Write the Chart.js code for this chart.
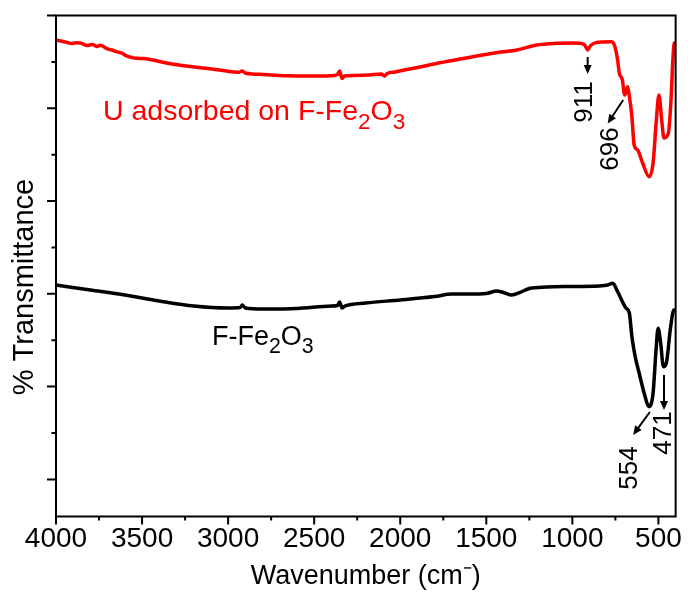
<!DOCTYPE html>
<html>
<head>
<meta charset="utf-8">
<title>FTIR spectra</title>
<script src="https://cdn.jsdelivr.net/npm/chart.js@4.4.1/dist/chart.umd.min.js"></script>
<style>
  html, body { margin: 0; padding: 0; background: #fff; }
  canvas { display: block; }
</style>
</head>
<body>
<canvas id="ftirChart" width="688" height="596"></canvas>
<script>
const FONT = '"Liberation Sans", Arial, Helvetica, sans-serif';

// U adsorbed on F-Fe2O3 (red trace)
const uWavenumber = [4000, 3960, 3935, 3910, 3885, 3860, 3840, 3820, 3790, 3760, 3745, 3730, 3700, 3675,
  3650, 3620, 3590, 3560, 3534, 3490, 3458, 3400, 3325, 3230, 3131, 3030, 2938, 2920, 2900, 2820, 2748,
  2650, 2554, 2460, 2402, 2365, 2352, 2345, 2338, 2325, 2265, 2180, 2110, 2092, 2075, 2030, 1977, 1900,
  1785, 1650, 1555, 1450, 1323, 1208, 1092, 1000, 958, 929, 911, 900, 890, 862, 820, 775, 756, 737, 727,
  710, 696, 679, 670, 654, 641, 621, 592, 554, 531, 512, 497, 481, 468, 442, 429, 410, 402];
const uTransmittance = [94.72, 94.40, 94.18, 93.96, 94.10, 94.07, 93.80, 93.53, 93.75, 93.32, 93.60,
  93.43, 92.78, 92.56, 92.20, 91.92, 91.27, 90.95, 90.77, 90.73, 90.56, 90.08, 89.55, 89.05, 88.62, 88.14,
  87.76, 88.04, 87.60, 87.32, 87.17, 87.00, 86.96, 86.96, 87.02, 87.28, 88.04, 87.17, 86.42, 86.96, 87.07,
  87.17, 87.39, 86.96, 87.50, 87.82, 88.25, 88.79, 89.70, 90.62, 91.27, 91.92, 92.56, 93.64, 94.01, 94.07,
  94.01, 93.64, 92.56, 93.21, 93.64, 94.14, 94.29, 94.35, 93.64, 90.41, 87.54, 86.20, 82.86, 84.65, 82.86,
  78.18, 72.08, 71.01, 68.20, 65.25, 68.20, 77.47, 82.86, 77.47, 73.59, 74.67, 80.34, 93.64, 94.29];

// F-Fe2O3 (black trace)
const feWavenumber = [4000, 3800, 3600, 3400, 3200, 3000, 2930, 2918, 2900, 2800, 2600, 2400, 2365, 2352,
  2338, 2320, 2200, 2000, 1800, 1700, 1600, 1500, 1440, 1400, 1352, 1300, 1250, 1150, 1000, 850, 794, 765,
  737, 689, 669, 654, 635, 612, 583, 554, 531, 515, 502, 487, 471, 454, 429, 410, 400];
const feTransmittance = [41.90, 40.83, 39.75, 38.46, 37.38, 36.95, 37.05, 37.59, 36.95, 36.73, 36.84, 37.38,
  37.49, 38.24, 36.95, 37.38, 38.03, 38.67, 39.42, 39.96, 39.96, 40.07, 40.61, 40.29, 39.75, 40.39, 41.15,
  41.47, 41.58, 41.69, 41.90, 42.27, 40.46, 36.95, 35.87, 30.76, 26.45, 22.93, 18.62, 15.67, 18.62, 27.25,
  32.57, 29.40, 24.29, 25.09, 32.91, 36.51, 36.51];

const xMajorTicks = [4000, 3500, 3000, 2500, 2000, 1500, 1000, 500];
const xMinorTicks = [3750, 3250, 2750, 2250, 1750, 1250, 750];
const yMajorTicks = [100, 80, 60, 40, 20, 0];
const yMinorTicks = [90, 70, 50, 30, 10];

// marked bands
const bandLabels = [911, 696, 554, 471];

// arrow + rotated number for each band, dx relative to the band's x pixel
const bandLayout = {
  911: { from: [0, 57], to: [0, 74], text: [-2.5, 102] },
  696: { from: [-1.5, 100], to: [-17, 123.5], text: [-13.5, 149] },
  554: { from: [0.7, 412], to: [-16, 435], text: [-19, 468] },
  471: { from: [0.6, 375], to: [0.6, 410], text: [0.3, 433] }
};

function toPoints(xs, ys) {
  return xs.map((x, i) => ({ x: x, y: ys[i] }));
}

function drawArrow(ctx, x0, y0, x1, y1) {
  const ang = Math.atan2(y1 - y0, x1 - x0);
  const head = 9, half = 4;
  ctx.beginPath();
  ctx.moveTo(x0, y0);
  ctx.lineTo(x1 - Math.cos(ang) * head * 0.8, y1 - Math.sin(ang) * head * 0.8);
  ctx.stroke();
  ctx.beginPath();
  ctx.moveTo(x1, y1);
  ctx.lineTo(x1 - Math.cos(ang) * head + Math.sin(ang) * half, y1 - Math.sin(ang) * head - Math.cos(ang) * half);
  ctx.lineTo(x1 - Math.cos(ang) * head - Math.sin(ang) * half, y1 - Math.sin(ang) * head + Math.cos(ang) * half);
  ctx.closePath();
  ctx.fill();
}

// text with subscripts: parts = [[text, isSub], ...]
function drawFormula(ctx, parts, x, y, size, color) {
  ctx.save();
  ctx.fillStyle = color;
  ctx.textAlign = 'left';
  ctx.textBaseline = 'alphabetic';
  let cx = x;
  parts.forEach(([txt, sub]) => {
    const s = sub ? size * 0.79 : size;
    ctx.font = s + 'px ' + FONT;
    ctx.fillText(txt, cx, sub ? y + size * 0.3 : y);
    cx += ctx.measureText(txt).width;
  });
  ctx.restore();
}

const framePlugin = {
  id: 'frame',
  afterDatasetsDraw(chart) {
    const { ctx, chartArea: a, scales: { x, y } } = chart;
    ctx.save();
    ctx.strokeStyle = '#000';
    ctx.fillStyle = '#000';
    ctx.lineWidth = 2;
    ctx.strokeRect(a.left, a.top, a.right - a.left, a.bottom - a.top);

    // outward tick marks
    ctx.beginPath();
    xMajorTicks.forEach(v => { const px = x.getPixelForValue(v); ctx.moveTo(px, a.bottom); ctx.lineTo(px, a.bottom + 8); });
    xMinorTicks.forEach(v => { const px = x.getPixelForValue(v); ctx.moveTo(px, a.bottom); ctx.lineTo(px, a.bottom + 4); });
    yMajorTicks.forEach(v => { const py = y.getPixelForValue(v); ctx.moveTo(a.left, py); ctx.lineTo(a.left - 9, py); });
    yMinorTicks.forEach(v => { const py = y.getPixelForValue(v); ctx.moveTo(a.left, py); ctx.lineTo(a.left - 4.5, py); });
    ctx.stroke();

    // y title
    ctx.save();
    ctx.translate(25, 287);
    ctx.rotate(-Math.PI / 2);
    ctx.font = '29px ' + FONT;
    ctx.textAlign = 'center';
    ctx.textBaseline = 'middle';
    ctx.fillText('% Transmittance', 0, 0);
    ctx.restore();

    // sample names
    drawFormula(ctx, [['U adsorbed on F-Fe', 0], ['2', 1], ['O', 0], ['3', 1]], 103, 120, 28.5, '#ff0000');
    drawFormula(ctx, [['F-Fe', 0], ['2', 1], ['O', 0], ['3', 1]], 212, 345, 27, '#000');

    // band arrows and numbers
    ctx.lineWidth = 2;
    bandLabels.forEach(b => {
      const L = bandLayout[b];
      const bx = x.getPixelForValue(b);
      drawArrow(ctx, bx + L.from[0], L.from[1], bx + L.to[0], L.to[1]);
      ctx.save();
      ctx.translate(bx + L.text[0], L.text[1]);
      ctx.rotate(-Math.PI / 2);
      ctx.font = '26px ' + FONT;
      ctx.textAlign = 'center';
      ctx.textBaseline = 'middle';
      ctx.fillText(String(b), 0, 0);
      ctx.restore();
    });
    ctx.restore();
  }
};

const ctx = document.getElementById('ftirChart').getContext('2d');
new Chart(ctx, {
  type: 'line',
  data: {
    datasets: [
      {
        label: 'U adsorbed on F-Fe2O3',
        data: toPoints(uWavenumber, uTransmittance),
        borderColor: '#ff0000',
        borderWidth: 3.5,
        pointRadius: 0,
        cubicInterpolationMode: 'monotone'
      },
      {
        label: 'F-Fe2O3',
        data: toPoints(feWavenumber, feTransmittance),
        borderColor: '#000000',
        borderWidth: 3.5,
        pointRadius: 0,
        cubicInterpolationMode: 'monotone'
      }
    ]
  },
  options: {
    responsive: false,
    animation: false,
    devicePixelRatio: 1,
    layout: { padding: { top: 15.5, right: 8, left: 0, bottom: 0 } },
    plugins: { legend: { display: false }, tooltip: { enabled: false } },
    scales: {
      x: {
        type: 'linear',
        reverse: true,
        min: 400,
        max: 4000,
        afterBuildTicks: s => { s.ticks = xMajorTicks.map(v => ({ value: v })); },
        afterFit: s => { s.height = 79.5; },
        grid: { display: false, drawTicks: false },
        border: { display: false },
        ticks: {
          autoSkip: false,
          maxRotation: 0,
          padding: 6,
          color: '#000',
          font: { family: FONT, size: 28 },
          callback: v => String(v)
        },
        title: {
          display: true,
          text: 'Wavenumber (cm⁻)',
          color: '#000',
          font: { family: FONT, size: 27 },
          padding: { top: 0, bottom: 3 }
        }
      },
      y: {
        min: -8,
        max: 100,
        afterFit: s => { s.width = 56; },
        ticks: { display: false },
        grid: { display: false, drawTicks: false },
        border: { display: false }
      }
    }
  },
  plugins: [framePlugin]
});
</script>
</body>
</html>
